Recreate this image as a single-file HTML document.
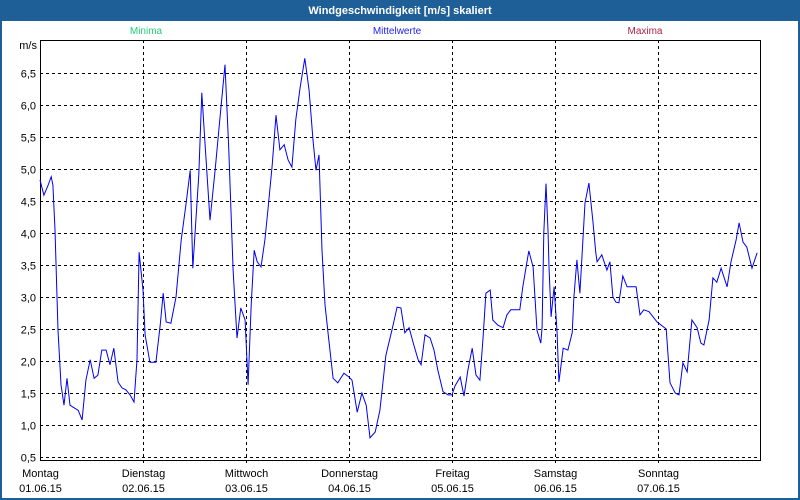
<!DOCTYPE html>
<html><head><meta charset="utf-8"><style>
html,body{margin:0;padding:0;background:#fff}
#win{position:relative;width:796px;height:496px;border:2px solid #1f5f97;background:#fff;overflow:hidden;font-family:"Liberation Sans",sans-serif}
#title{position:absolute;left:0;top:0;width:796px;height:19px;background:#1f5f97;color:#fff;font-weight:bold;font-size:11px;text-align:center;line-height:18px}
svg{position:absolute;left:-2px;top:-2px}
</style></head><body>
<div id="win">
<div id="title">Windgeschwindigkeit [m/s] skaliert</div>
<svg id="chart" width="800" height="500" font-family="Liberation Sans, sans-serif" font-size="11"></svg>
</div>
<script>
const dayNames=["Montag","Dienstag","Mittwoch","Donnerstag","Freitag","Samstag","Sonntag"];
const dayDates=["01.06.15","02.06.15","03.06.15","04.06.15","05.06.15","06.06.15","07.06.15"];
const yTicks=[0.5,1.0,1.5,2.0,2.5,3.0,3.5,4.0,4.5,5.0,5.5,6.0,6.5];
const hours=[0,0.9,1.9,2.6,3.0,3.5,4.2,4.9,5.6,6.3,7.0,7.9,8.9,9.8,10.7,11.7,12.6,13.5,14.4,15.4,16.3,17.2,18.2,19.1,20.0,21.0,21.9,22.6,23.1,24.0,24.5,25.6,27.0,28.0,28.7,29.4,30.5,31.7,32.9,34.0,35.0,35.6,37.0,37.7,38.4,39.6,40.8,41.9,43.1,44.0,45.0,45.9,46.8,47.8,48.5,49.2,49.9,50.6,51.5,52.4,53.1,54.1,55.0,55.9,56.9,57.8,58.7,59.6,60.6,61.7,62.7,63.6,64.3,65.0,65.7,66.4,67.3,68.3,69.4,70.8,72.0,72.7,73.9,75.0,76.0,76.9,78.1,79.2,80.6,82.0,83.2,84.1,85.0,86.0,87.1,88.1,88.8,89.7,90.9,91.8,92.7,93.9,95.1,96.0,96.7,97.9,98.8,99.7,100.7,101.6,102.5,103.2,103.9,104.9,105.5,106.7,107.9,108.8,109.7,110.7,111.8,112.5,113.9,114.9,115.8,116.7,117.0,117.4,117.9,118.4,118.6,119.1,119.8,120.5,120.9,121.9,123.0,124.0,124.4,125.1,125.8,126.5,127.0,127.9,128.8,129.5,129.8,130.9,132.1,132.8,133.5,134.2,134.9,135.8,136.8,138.9,139.8,140.7,141.9,143.8,145.9,146.8,148.0,148.9,149.8,150.8,151.9,153.1,154.0,154.7,155.9,156.8,157.7,158.7,160.1,161.0,162.2,162.9,163.8,164.7,165.9,167.1];
const speeds=[4.83,4.59,4.75,4.88,4.75,4.05,2.48,1.63,1.31,1.73,1.31,1.27,1.23,1.08,1.70,2.02,1.73,1.78,2.17,2.17,1.94,2.20,1.67,1.58,1.55,1.47,1.36,2.02,3.70,3.11,2.41,1.98,1.98,2.56,3.06,2.61,2.59,3.00,3.89,4.44,4.98,3.45,4.91,6.19,5.45,4.20,4.98,5.77,6.63,5.30,3.42,2.36,2.83,2.64,1.63,2.88,3.73,3.55,3.47,3.89,4.36,5.06,5.84,5.30,5.38,5.14,5.03,5.77,6.27,6.73,6.23,5.45,4.98,5.22,3.73,2.88,2.33,1.73,1.66,1.81,1.75,1.70,1.20,1.50,1.31,0.80,0.89,1.23,2.09,2.48,2.84,2.83,2.44,2.52,2.25,2.02,1.94,2.41,2.36,2.17,1.86,1.52,1.47,1.47,1.61,1.75,1.45,1.86,2.20,1.78,1.70,2.33,3.06,3.11,2.64,2.56,2.52,2.72,2.80,2.80,2.80,3.16,3.72,3.47,2.48,2.28,2.53,4.00,4.77,4.00,3.47,2.69,3.16,2.44,1.67,2.20,2.17,2.44,3.00,3.58,3.06,3.89,4.47,4.78,4.20,3.69,3.55,3.66,3.42,3.55,3.00,2.92,2.91,3.33,3.16,3.16,2.72,2.80,2.77,2.61,2.50,1.66,1.50,1.47,1.97,1.83,2.64,2.52,2.28,2.25,2.64,3.30,3.23,3.45,3.16,3.55,3.89,4.16,3.86,3.78,3.45,3.69];

const NS="http://www.w3.org/2000/svg";
const svg=document.getElementById('chart');
const L=40,R=760,T=40,B=460;
const xOf=h=>L+h*(103/24);
const yOf=v=>425-(v-1)*64;
function mk(tag,attrs,parent){const e=document.createElementNS(NS,tag);for(const k in attrs)e.setAttribute(k,attrs[k]);(parent||svg).appendChild(e);return e;}

yTicks.forEach(v=>{
  const y=Math.round(yOf(v))+0.5;
  const g=mk('line',{x1:L,x2:R,y1:y,y2:y,stroke:'#000','stroke-dasharray':'3,3'});
  
  
  const t=mk('text',{x:36,y:y+4,'text-anchor':'end',fill:'#000'});
  t.textContent=v.toFixed(1).replace('.',',');
  
  
});
dayNames.forEach((d,i)=>{
  const x=Math.round(xOf(i*24))+0.5;
  if(i>0){
    const g=mk('line',{x1:x,x2:x,y1:T,y2:B+6,stroke:'#000','stroke-dasharray':'3,3'});
    
    
  }
  const t1=mk('text',{x:x,y:477,'text-anchor':'middle',fill:'#000'});
  t1.textContent=d;
  
  
  const t2=mk('text',{x:x,y:492,'text-anchor':'middle',fill:'#000'});
  t2.textContent=dayDates[i];
  
  
});
const fr=mk('rect',{x:L+0.5,y:T+0.5,width:R-L,height:B-T,fill:'none',stroke:'#000','stroke-width':1});


const u=mk('text',{x:37,y:49,'text-anchor':'end',fill:'#000'});
u.textContent='m/s';


[["Minima",146,"#22cc77"],["Mittelwerte",397,"#2222ee"],["Maxima",645,"#aa2244"]].forEach(([n,x,c])=>{
  const t=mk('text',{x:x,y:34,'text-anchor':'middle',fill:c,'font-size':10});
  t.textContent=n;
  
  
});
const n=Math.min(hours.length,speeds.length);
let d='';
for(let i=0;i<n;i++){d+=(i?'L':'M')+xOf(hours[i]).toFixed(1)+','+yOf(speeds[i]).toFixed(1);}
const p=mk('path',{d:d,fill:'none',stroke:'#0000ee','stroke-width':1});


</script>
</body></html>
